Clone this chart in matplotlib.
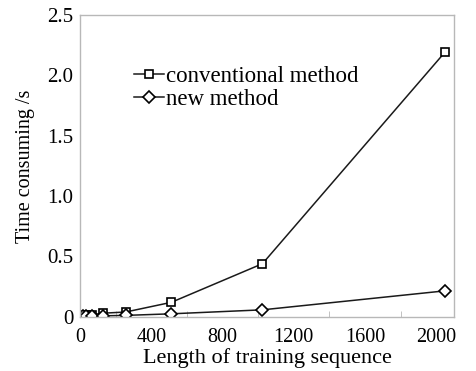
import numpy as np
import matplotlib
matplotlib.use('Agg')
import matplotlib.pyplot as plt
from matplotlib.ticker import MultipleLocator

# Data
seq_len = [8, 16, 32, 64, 128, 256, 512, 1024, 2048]
conventional = [0.005, 0.008, 0.012, 0.018, 0.03, 0.04, 0.12, 0.44, 2.19]
new_method = [0.002, 0.003, 0.004, 0.006, 0.008, 0.012, 0.025, 0.058, 0.215]

y_ticks = [0, 0.5, 1.0, 1.5, 2.0, 2.5]
y_ticklabels = ['0', '0.5', '1.0', '1.5', '2.0', '2.5']
x_ticks = [0, 400, 800, 1200, 1600, 2000]

plt.rcParams['font.family'] = ['Liberation Serif', 'DejaVu Serif']

fig = plt.figure(figsize=(4.77, 3.71), dpi=100)
ax = fig.add_axes([0.168, 0.146, 0.784, 0.814])

ax.plot(seq_len, conventional, color='#1a1a1a', lw=1.1, marker='s', ms=6,
        mfc='white', mec='black', mew=1.2, label='conventional method')
ax.plot(seq_len, new_method, color='#1a1a1a', lw=1.1, marker='D', ms=5.8,
        mfc='white', mec='black', mew=1.2, label='new method')

ax.set_xlim(0, 2100)
ax.set_ylim(0, 2.5)
ax.set_xticks(x_ticks)
ax.xaxis.set_minor_locator(MultipleLocator(200))
ax.set_yticks(y_ticks)
ax.set_yticklabels(y_ticklabels)

for s in ax.spines.values():
    s.set_color('#b8b8b8')
    s.set_linewidth(1.0)

ax.tick_params(axis='x', which='both', direction='in', color='#b8b8b8',
               labelsize=14.5, pad=8)
ax.tick_params(axis='x', which='major', length=0)
ax.tick_params(axis='x', which='minor', length=4)
ax.tick_params(axis='y', length=0, labelsize=15, pad=5)

ax.set_xlabel('Length of training sequence', fontsize=16, labelpad=1)
ax.set_ylabel('Time consuming /s', fontsize=14.5, labelpad=9)

ax.legend(loc='upper left', bbox_to_anchor=(0.12, 0.862), frameon=False,
          fontsize=16.5, handlelength=1.3, handletextpad=0.1,
          labelspacing=0.1, borderaxespad=0)

fig.savefig('out.png', dpi=100)
